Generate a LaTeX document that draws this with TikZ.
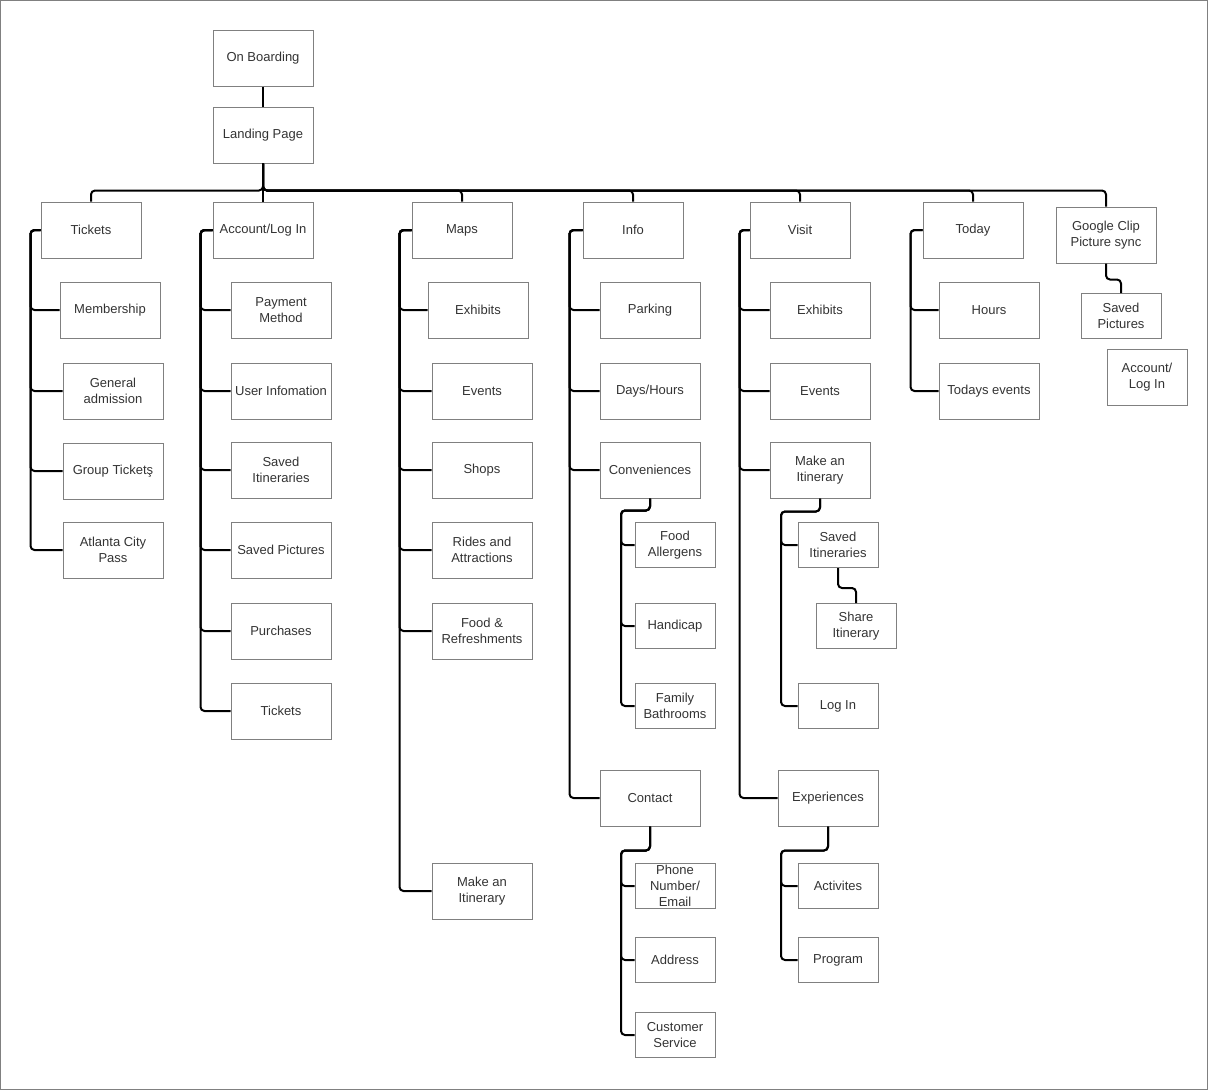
\documentclass[tikz,border=0pt]{standalone}
\usepackage{fontspec}
\setmainfont{Liberation Sans}
\definecolor{boxline}{HTML}{808080}
\definecolor{txt}{HTML}{333333}
\begin{document}
\begin{tikzpicture}[x=1pt,y=-1pt,
  bigbox/.style={draw=boxline,line width=1pt,minimum width=100pt,minimum height=56pt,inner sep=1pt,align=center,text=txt,font=\fontsize{13}{16}\selectfont},
  smallbox/.style={bigbox,minimum width=80pt,minimum height=45pt},
  tallsmall/.style={bigbox,minimum width=80pt,minimum height=56pt},
  conn/.style={draw=black,line width=2pt,rounded corners=4pt}]
\useasboundingbox (0,0) rectangle (1208,1090);
\draw[boxline,line width=1pt] (0.5,0.5) rectangle (1207.5,1089.5);
% top
\node[bigbox] (onb) at (263,58) {On Boarding};
\node[bigbox] (land) at (263,135) {Landing Page};
% level 1
\node[bigbox] (tickets) at (91,230) {Tickets};
\node[bigbox] (account) at (263,230) {Account/Log In};
\node[bigbox] (maps) at (462,230) {Maps};
\node[bigbox] (info) at (633,230) {Info};
\node[bigbox] (visit) at (800,230) {Visit};
\node[bigbox] (today) at (973,230) {Today};
\node[bigbox] (google) at (1106,235) {Google Clip\\Picture sync};
% tickets
\node[bigbox] (t1) at (110,310) {Membership};
\node[bigbox] (t2) at (113,391) {General\\admission};
\node[bigbox] (t3) at (113,471) {Group Ticketş};
\node[bigbox] (t4) at (113,550) {Atlanta City\\Pass};
% account
\node[bigbox] (a1) at (281,310) {Payment\\Method};
\node[bigbox] (a2) at (281,391) {User Infomation};
\node[bigbox] (a3) at (281,470) {Saved\\Itineraries};
\node[bigbox] (a4) at (281,550) {Saved Pictures};
\node[bigbox] (a5) at (281,631) {Purchases};
\node[bigbox] (a6) at (281,711) {Tickets};
% maps
\node[bigbox] (m1) at (478,310) {Exhibits};
\node[bigbox] (m2) at (482,391) {Events};
\node[bigbox] (m3) at (482,470) {Shops};
\node[bigbox] (m4) at (482,550) {Rides and\\Attractions};
\node[bigbox] (m5) at (482,631) {Food \&\\Refreshments};
\node[bigbox] (m6) at (482,891) {Make an\\Itinerary};
% info
\node[bigbox] (i1) at (650,310) {Parking};
\node[bigbox] (i2) at (650,391) {Days/Hours};
\node[bigbox] (i3) at (650,470) {Conveniences};
\node[bigbox] (i4) at (650,798) {Contact};
\node[smallbox] (c1) at (675,545) {Food\\Allergens};
\node[smallbox] (c2) at (675,626) {Handicap};
\node[smallbox] (c3) at (675,706) {Family\\Bathrooms};
\node[smallbox] (k1) at (675,886) {Phone\\Number/\\Email};
\node[smallbox] (k2) at (675,960) {Address};
\node[smallbox] (k3) at (675,1035) {Customer\\Service};
% visit
\node[bigbox] (v1) at (820,310) {Exhibits};
\node[bigbox] (v2) at (820,391) {Events};
\node[bigbox] (v3) at (820,470) {Make an\\Itinerary};
\node[bigbox] (v4) at (828,798) {Experiences};
\node[smallbox] (s1) at (838,545) {Saved\\Itineraries};
\node[smallbox] (s2) at (856,626) {Share\\Itinerary};
\node[smallbox] (s3) at (838,706) {Log In};
\node[smallbox] (e1) at (838,886) {Activites};
\node[smallbox] (e2) at (838,960) {Program};
% today
\node[bigbox] (d1) at (989,310) {Hours};
\node[bigbox] (d2) at (989,391) {Todays events};
% google
\node[smallbox] (g1) at (1121,316) {Saved\\Pictures};
\node[tallsmall] (g2) at (1147,377) {Account/\\Log In};
% connectors
\draw[conn] (onb.south) -- (land.north);
\foreach \n in {tickets,account,maps,info,visit,today,google}
  \draw[conn] (land.south) -- ++(0,27) -| (\n.north);
\foreach \n in {t1,t2,t3,t4}
  \draw[conn] (tickets.west) -- ++(-10,0) |- (\n.west);
\foreach \n in {a1,a2,a3,a4,a5,a6}
  \draw[conn] (account.west) -- ++(-12,0) |- (\n.west);
\foreach \n in {m1,m2,m3,m4,m5,m6}
  \draw[conn] (maps.west) -- ++(-12,0) |- (\n.west);
\foreach \n in {i1,i2,i3,i4}
  \draw[conn] (info.west) -- ++(-13,0) |- (\n.west);
\foreach \n in {c1,c2,c3}
  \draw[conn] (i3.south) -- ++(0,12) -- ++(-29,0) |- (\n.west);
\foreach \n in {k1,k2,k3}
  \draw[conn] (i4.south) -- ++(0,24) -- ++(-29,0) |- (\n.west);
\foreach \n in {v1,v2,v3,v4}
  \draw[conn] (visit.west) -- ++(-10,0) |- (\n.west);
\foreach \n in {s1,s3}
  \draw[conn] (v3.south) -- ++(0,13) -- ++(-39,0) |- (\n.west);
\draw[conn] (s1.south) -- ++(0,20) -| (s2.north);
\foreach \n in {e1,e2}
  \draw[conn] (v4.south) -- ++(0,24) -- ++(-47,0) |- (\n.west);
\foreach \n in {d1,d2}
  \draw[conn] (today.west) -- ++(-12,0) |- (\n.west);
\draw[conn] (google.south) -- ++(0,16) -| (g1.north);
\end{tikzpicture}
\end{document}
